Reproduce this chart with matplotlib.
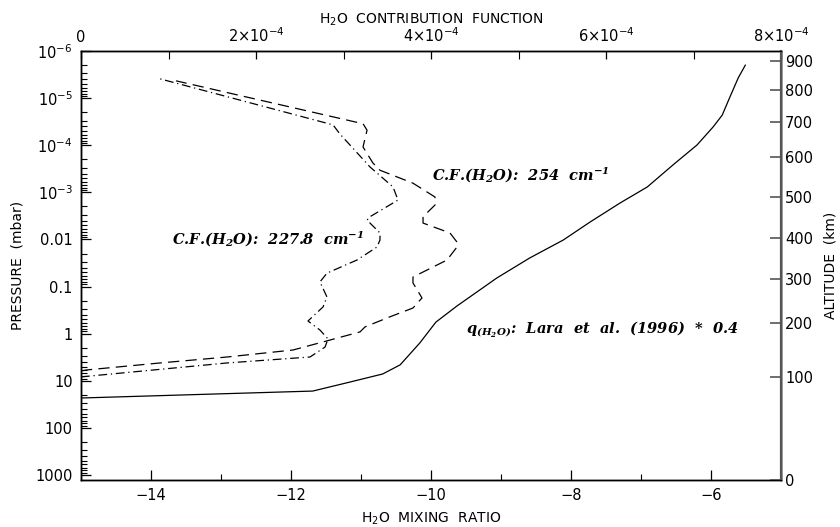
import numpy as np
import matplotlib
matplotlib.use("Agg")
import matplotlib.pyplot as plt
from matplotlib.ticker import FixedLocator, NullLocator, LogLocator, MultipleLocator

plt.rcParams["font.family"] = "DejaVu Sans"
plt.rcParams["mathtext.default"] = "regular"

# H2O mixing ratio (log10) vs pressure (mbar), Lara et al. (1996) * 0.4
q_log = [-15.0, -11.69, -11.16, -10.69, -10.44, -10.16, -9.93, -9.63, -9.06, -8.59,
         -8.11, -7.73, -7.30, -6.91, -6.54, -6.20, -5.97, -5.84, -5.73, -5.61, -5.51]
q_p = [23.3, 16.6, 10.7, 7.2, 4.6, 1.58, 0.57, 0.26, 0.066, 0.0248,
       0.0103, 4.3e-3, 1.69e-3, 7.7e-4, 2.6e-4, 9.9e-5, 4.1e-5, 2.3e-5, 9.5e-6, 3.7e-6, 2.0e-6]

# contribution function, 254 cm-1 (units of 1e-4)
cf254 = [0.0, 0.069, 0.903, 1.669, 2.423, 2.846, 3.189, 3.246, 3.531, 3.794, 3.897, 3.794,
         3.794, 4.183, 4.297, 4.297, 4.217, 3.909, 3.909, 4.046, 4.046, 3.794, 3.417,
         3.337, 3.223, 3.269, 3.223, 1.086]
cf254_p = [6.2, 5.9, 4.2, 3.14, 2.23, 1.37, 0.92, 0.72, 0.44, 0.286, 0.175, 0.084,
           0.063, 0.0274, 0.0145, 0.0114, 7.3e-3, 4.5e-3, 3.3e-3, 1.86e-3, 1.26e-3, 6.4e-4, 3.4e-4,
           2.4e-4, 1.09e-4, 4.8e-5, 3.5e-5, 4.3e-6]

# contribution function, 227.8 cm-1 (units of 1e-4)
cf228 = [0.0, 1.669, 2.617, 2.789, 2.823, 2.731, 2.594, 2.766, 2.811, 2.731, 2.811, 3.154,
         3.383, 3.417, 3.417, 3.269, 3.303, 3.623, 3.566, 3.303, 2.96, 2.88, 0.903]
cf228_p = [8.3, 4.2, 3.14, 1.93, 1.30, 0.84, 0.54, 0.272, 0.167, 0.080, 0.052, 0.0274,
           0.0145, 0.0103, 7.3e-3, 3.9e-3, 3.3e-3, 1.46e-3, 7.7e-4, 2.9e-4, 5.8e-5, 3.7e-5, 3.9e-6]

# altitude scale (km) and matching pressure levels (mbar)
alt_km = [0, 100, 200, 300, 400, 500, 600, 700, 800, 900]
alt_p = [1283, 8.3, 0.6, 0.069, 0.0093, 1.26e-3, 1.78e-4, 3.2e-5, 6.7e-6, 1.6e-6]

p_ticks = [1e-6, 1e-5, 1e-4, 1e-3, 0.01, 0.1, 1, 10, 100, 1000]
p_labels = ["10$^{-6}$", "10$^{-5}$", "10$^{-4}$", "10$^{-3}$", "0.01", "0.1", "1", "10", "100", "1000"]
q_ticks = [-14, -12, -10, -8, -6]
q_labels = ["−14", "−12", "−10", "−8", "−6"]
cf_ticks = [0, 2, 4, 6, 8]
cf_labels = ["0", "2×10$^{-4}$", "4×10$^{-4}$", "6×10$^{-4}$", "8×10$^{-4}$"]

ylim = (1283, 1e-6)

fig = plt.figure(figsize=(8.4, 5.27), dpi=100)
ax = fig.add_axes([81 / 840, 1 - 480 / 527, 700 / 840, 429 / 527])

ax.plot(q_log, q_p, color="black", lw=0.9)
ax.set_yscale("log")
ax.set_ylim(*ylim)
ax.set_xlim(-15, -5)

# top axis: contribution function (shares y with ax)
ax2 = ax.twiny()
ax2.plot(cf254, cf254_p, color="black", lw=0.9, dashes=(9, 5))
ax2.plot(cf228, cf228_p, color="black", lw=0.9, dashes=(7, 3, 1, 3))
ax2.set_xlim(0, 8)
ax2.set_xticks(cf_ticks)
ax2.set_xticklabels(cf_labels)
ax2.xaxis.set_minor_locator(MultipleLocator(1))
ax2.tick_params(which="both", direction="in", labelsize=10.5, pad=4)
ax2.tick_params(which="major", length=6, width=0.9)
ax2.tick_params(which="minor", length=6, width=0.8)

# left / bottom ticks (set after twinning so the shared axis keeps them)
ax.set_ylim(*ylim)
ax.yaxis.set_major_locator(FixedLocator(p_ticks))
ax.set_yticklabels(p_labels)
ax.yaxis.set_minor_locator(LogLocator(base=10, subs=np.arange(2, 10)))
ax.set_xticks(q_ticks)
ax.set_xticklabels(q_labels)
ax.xaxis.set_minor_locator(MultipleLocator(1))
ax.tick_params(which="both", direction="in", top=False, right=False, labelsize=10.5)
ax.tick_params(which="major", length=7, width=0.9)
ax.tick_params(which="minor", length=4, width=0.8)
ax.tick_params(axis="y", pad=6)
ax.tick_params(axis="x", pad=6)

# right axis: altitude
ax3 = ax.twinx()
ax3.set_yscale("log")
ax3.set_ylim(*ylim)
ax3.yaxis.set_major_locator(FixedLocator(alt_p))
ax3.set_yticklabels([str(a) for a in alt_km])
ax3.yaxis.set_minor_locator(NullLocator())
ax3.tick_params(axis="y", direction="in", length=8, width=1.2, color="#555555",
                labelsize=10.5, pad=3)
ax3.spines["right"].set_color("#555555")
ax3.spines["right"].set_linewidth(1.6)

for a in (ax, ax2):
    for s in a.spines.values():
        s.set_linewidth(1.0)

fig.text(431 / 840, 1 - 20 / 527, "H$_2$O  CONTRIBUTION  FUNCTION", fontsize=10,
         ha="center", va="center")
fig.text(431 / 840, 1 - 519 / 527, "H$_2$O  MIXING  RATIO", fontsize=10,
         ha="center", va="center")
fig.text(18 / 840, 1 - 265 / 527, "PRESSURE  (mbar)", fontsize=10,
         ha="center", va="center", rotation=90)
fig.text(831 / 840, 1 - 265 / 527, "ALTITUDE  (km)", fontsize=10,
         ha="center", va="center", rotation=90)

ann = dict(family="DejaVu Serif", style="italic", weight="bold", fontsize=10.5)
ax.text(-13.7, 0.0102, "C.F.(H$_2$O):  227.8  cm$^{-1}$", va="center", **ann)
ax.text(-9.99, 4.3e-4, "C.F.(H$_2$O):  254  cm$^{-1}$", va="center", **ann)
ax.text(-9.5, 0.8, "q$_{(H_2O)}$:  Lara  et  al.  (1996)  *  0.4", va="center", **ann)

fig.savefig("out.png", dpi=100)
